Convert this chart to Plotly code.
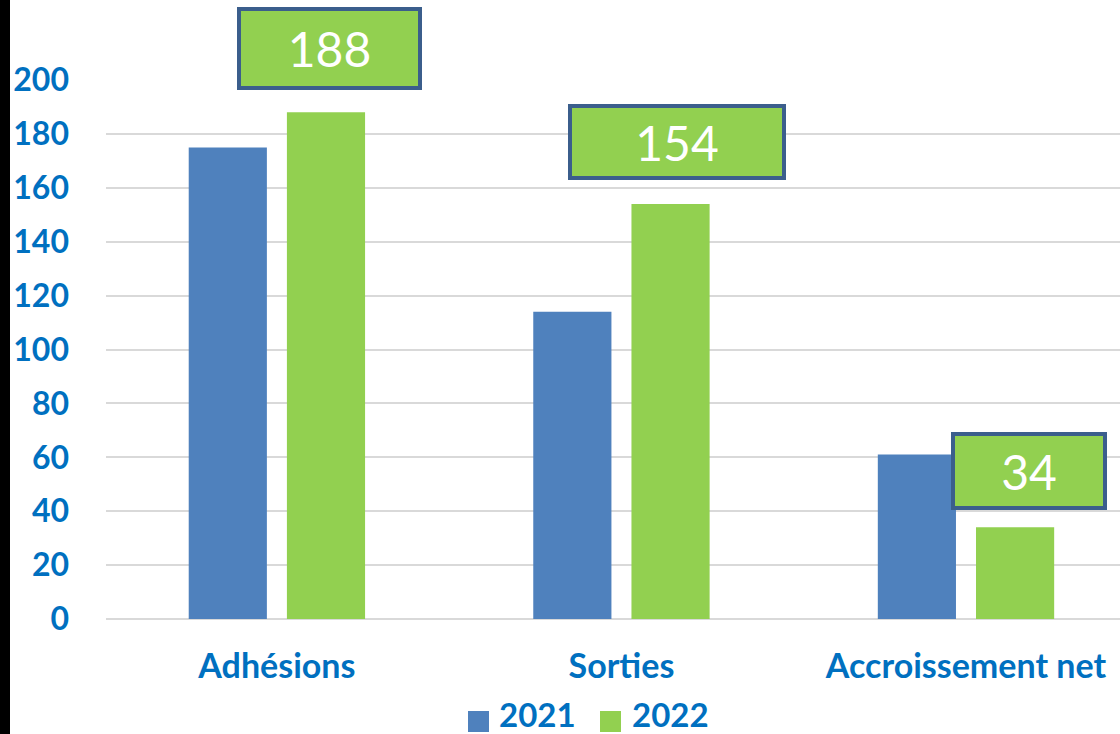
import plotly.graph_objects as go

categories = ["Adhésions", "Sorties", "Accroissement net"]
series_names = ["2021", "2022"]
values_2021 = [175, 114, 61]
values_2022 = [188, 154, 34]
y_ticks = [0, 20, 40, 60, 80, 100, 120, 140, 160, 180, 200]

W, H = 1120, 734
ML, MR, MT, MB = 106, 0, 80, 115
PW, PH = W - ML - MR, H - MT - MB

def px_x(p):
    return (p - ML) / PW

def px_y(p):
    return (H - MB - p) / PH

BLUE_TXT = "#0070C0"
C2021 = "#4F81BD"
C2022 = "#92D050"
FONT = "Lato"

fig = go.Figure()
fig.add_trace(go.Bar(x=categories, y=values_2021, name=series_names[0],
                     marker=dict(color=C2021, line=dict(width=0)), showlegend=False))
fig.add_trace(go.Bar(x=categories, y=values_2022, name=series_names[1],
                     marker=dict(color=C2022, line=dict(width=0)), showlegend=False))

# data labels for 2022 (boxed)
box_style = [  # xshift, yshift, outer width, outer height
    (53, 22, 185, 83),
    (56, 24, 218, 76),
    (63, 17, 156, 78),
]
BW = 4
for cat, v, (xs, ys, bw, bh) in zip(categories, values_2022, box_style):
    fig.add_annotation(x=cat, y=v, xref="x", yref="y", text=str(v), showarrow=False,
                       xanchor="center", yanchor="bottom", xshift=xs, yshift=ys,
                       width=bw - 2 * BW, height=bh - 2 * BW, borderpad=0,
                       bgcolor=C2022, bordercolor="#3B5E8C", borderwidth=BW,
                       font=dict(family=FONT, size=48, color="white"))

# manual legend
leg = [(468, 497, C2021), (600, 630, C2022)]
for (sq_x, tx_x, col), name in zip(leg, series_names):
    fig.add_shape(type="rect", xref="paper", yref="paper",
                  x0=px_x(sq_x), x1=px_x(sq_x + 21), y0=px_y(732), y1=px_y(711),
                  fillcolor=col, line=dict(width=0))
    fig.add_annotation(xref="paper", yref="paper", x=px_x(tx_x), y=px_y(714),
                       xanchor="left", yanchor="middle", text=f"<b>{name}</b>",
                       showarrow=False,
                       font=dict(family=FONT, size=33, color=BLUE_TXT))

# black strip on the left edge
fig.add_shape(type="rect", xref="paper", yref="paper",
              x0=px_x(0), x1=px_x(10), y0=px_y(H), y1=px_y(0),
              fillcolor="black", line=dict(width=0), layer="above")

fig.update_layout(
    width=W, height=H,
    margin=dict(l=ML, r=MR, t=MT, b=MB, pad=0),
    paper_bgcolor="white", plot_bgcolor="white",
    barmode="group", bargap=0.43, bargroupgap=0.204,
    showlegend=False,
    font=dict(family=FONT, color=BLUE_TXT),
    xaxis=dict(range=[-0.496, 2.447], showgrid=False, showline=False, ticks="",
               tickfont=dict(family=FONT, size=34, color=BLUE_TXT, weight="bold"),
               ticklabelstandoff=24, fixedrange=True),
    yaxis=dict(range=[0, 200], tickvals=y_ticks, showgrid=True, gridcolor="#D9D9D9",
               gridwidth=2, zeroline=True, zerolinecolor="#D9D9D9", zerolinewidth=2,
               showline=False, ticks="",
               tickfont=dict(family=FONT, size=32, color=BLUE_TXT, weight="bold"),
               ticklabelstandoff=36, fixedrange=True),
)

fig.write_html("out.html", config={"displayModeBar": False},
               post_script="document.body.style.margin='0';document.body.style.overflow='hidden';")
